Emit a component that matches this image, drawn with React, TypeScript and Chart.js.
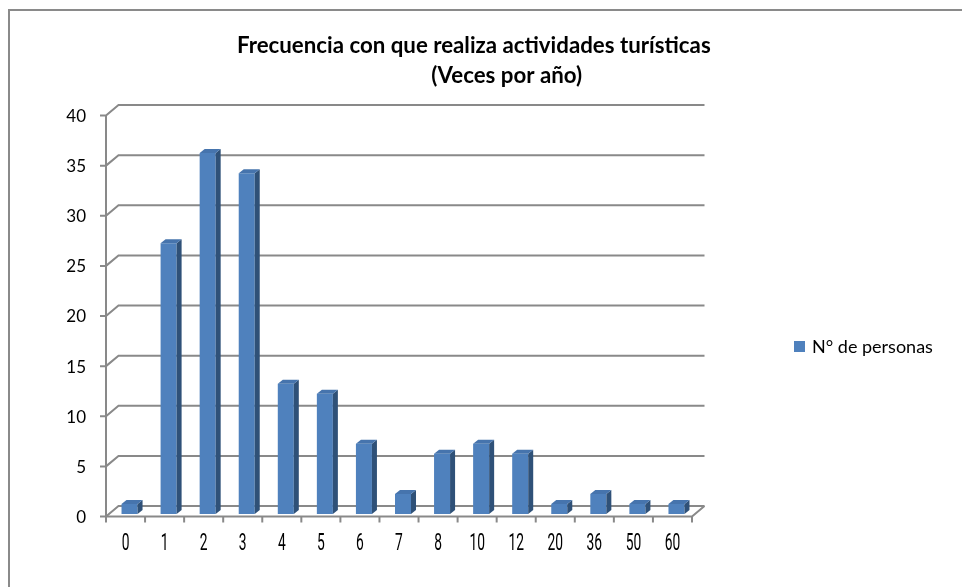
import React, { useEffect, useRef } from "react";
import { Chart, registerables } from "chart.js";

Chart.register(...registerables);

const categories: string[] = ["0", "1", "2", "3", "4", "5", "6", "7", "8", "10", "12", "20", "36", "50", "60"];
const personas: number[] = [1, 27, 36, 34, 13, 12, 7, 2, 6, 7, 6, 1, 2, 1, 1];
const yTicks: number[] = [0, 5, 10, 15, 20, 25, 30, 35, 40];
const seriesLabel = "N° de personas";
const titleLine1 = "Frecuencia con que realiza actividades turísticas";
const titleLine2 = "(Veces por año)";

const FRONT = "#4F81BD";
const TOP = "#4674AD";
const SIDE = "#2F5178";
const GRID = "#898989";

// 3D offsets relative to the bar plane (chart area)
const FRONT_DX = -4;
const FRONT_DY = 2.5;
const BACK_DX = 8.5;
const BACK_DY = -8;
const DEPTH_X = 5;
const DEPTH_Y = -4;

const threeD = {
  id: "threeD",
  beforeDatasetsDraw(chart: any) {
    const ctx = chart.ctx as CanvasRenderingContext2D;
    const xs = chart.scales.x;
    const ys = chart.scales.y;
    const area = chart.chartArea;
    const n = categories.length;
    const catW = (area.right - area.left) / n;
    const fl = area.left + FRONT_DX;
    const fr = area.right + FRONT_DX;
    const bl = area.left + BACK_DX;
    const br = area.right + BACK_DX;
    const front = (v: number) => ys.getPixelForValue(v) + FRONT_DY;
    const back = (v: number) => ys.getPixelForValue(v) + BACK_DY;

    ctx.save();
    // outer frame
    ctx.strokeStyle = "#8a8a8a";
    ctx.lineWidth = 2;
    ctx.beginPath();
    ctx.moveTo(9, 600);
    ctx.lineTo(9, 10);
    ctx.lineTo(980, 10);
    ctx.stroke();

    ctx.strokeStyle = GRID;
    ctx.lineWidth = 2;
    ctx.lineCap = "butt";
    for (const v of yTicks) {
      ctx.beginPath();
      ctx.moveTo(fl - 6, front(v));
      ctx.lineTo(fl, front(v));
      ctx.lineTo(bl, back(v));
      ctx.lineTo(br, back(v));
      ctx.stroke();
    }
    // front axis
    ctx.beginPath();
    ctx.moveTo(fl, front(40));
    ctx.lineTo(fl, front(0));
    ctx.lineTo(fr, front(0));
    ctx.lineTo(br, back(0));
    ctx.stroke();
    // x ticks
    for (let i = 0; i <= n; i++) {
      const x = fl + i * catW;
      ctx.beginPath();
      ctx.moveTo(x, front(0));
      ctx.lineTo(x, front(0) + 6);
      ctx.stroke();
    }

    // y labels
    ctx.fillStyle = "#000";
    ctx.font = "17px Lato";
    ctx.textAlign = "right";
    ctx.textBaseline = "middle";
    for (const v of yTicks) {
      ctx.fillText(String(v), fl - 20, front(v) + 1);
    }
    // x labels (condensed)
    ctx.font = "23px Roboto";
    ctx.textAlign = "center";
    categories.forEach((c, i) => {
      const x = xs.getPixelForValue(i) + FRONT_DX;
      ctx.save();
      ctx.translate(x, front(0) + 28);
      ctx.scale(0.6, 1);
      ctx.fillText(c, 0, 0);
      ctx.restore();
    });

    // title
    ctx.font = "bold 21px Lato";
    const w1 = ctx.measureText(titleLine1).width;
    const size = (21 * 474) / w1;
    ctx.font = `bold ${size}px Lato`;
    ctx.textBaseline = "alphabetic";
    ctx.textAlign = "left";
    ctx.fillText(titleLine1, 237, 53);
    const w2 = ctx.measureText(titleLine2).width;
    ctx.fillText(titleLine2, 582 - w2, 83);

    // legend
    ctx.fillStyle = FRONT;
    ctx.fillRect(794, 341, 11, 11);
    ctx.fillStyle = "#000";
    ctx.font = "18px Lato";
    ctx.textAlign = "left";
    ctx.textBaseline = "middle";
    ctx.fillText(seriesLabel, 812, 347);
    ctx.restore();
  },
  afterDatasetsDraw(chart: any) {
    const ctx = chart.ctx as CanvasRenderingContext2D;
    const meta = chart.getDatasetMeta(0);
    ctx.save();
    meta.data.forEach((bar: any) => {
      const { x, y, base, width } = bar.getProps(["x", "y", "base", "width"], true);
      const l = x - width / 2;
      const r = x + width / 2;
      // side
      ctx.fillStyle = SIDE;
      ctx.beginPath();
      ctx.moveTo(r, y);
      ctx.lineTo(r + DEPTH_X, y + DEPTH_Y);
      ctx.lineTo(r + DEPTH_X, base + DEPTH_Y);
      ctx.lineTo(r, base);
      ctx.closePath();
      ctx.fill();
      // top
      ctx.fillStyle = TOP;
      ctx.beginPath();
      ctx.moveTo(l, y);
      ctx.lineTo(l + DEPTH_X, y + DEPTH_Y);
      ctx.lineTo(r + DEPTH_X, y + DEPTH_Y);
      ctx.lineTo(r, y);
      ctx.closePath();
      ctx.fill();
    });
    ctx.restore();
  },
};

export default function App() {
  const ref = useRef<HTMLCanvasElement | null>(null);
  useEffect(() => {
    if (!ref.current) return;
    const chart = new Chart(ref.current, {
      type: "bar",
      data: {
        labels: categories,
        datasets: [
          {
            label: seriesLabel,
            data: personas,
            backgroundColor: FRONT,
            borderWidth: 0,
            barPercentage: 0.41,
            categoryPercentage: 1,
          },
        ],
      },
      options: {
        responsive: false,
        animation: false,
        devicePixelRatio: 1,
        layout: { padding: { left: 110, right: 266, top: 113, bottom: 73 } },
        plugins: {
          legend: { display: false },
          title: { display: false },
          tooltip: { enabled: false },
        },
        scales: {
          x: { display: false, offset: true },
          y: { display: false, min: 0, max: 40 },
        },
      },
      plugins: [threeD],
    });
    return () => chart.destroy();
  }, []);
  return (
    <div style={{ position: "fixed", left: 0, top: 0, width: 962, height: 587, background: "#fff" }}>
      <canvas ref={ref} width={962} height={587} style={{ display: "block" }} />
    </div>
  );
}
